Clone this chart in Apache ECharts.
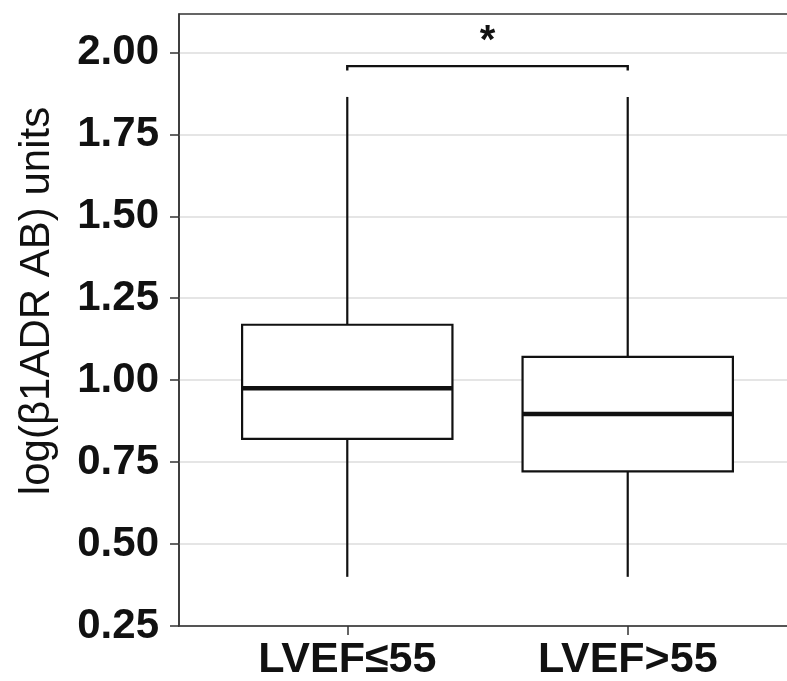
<!DOCTYPE html>
<html>
<head>
<meta charset="utf-8">
<script src="https://cdn.jsdelivr.net/npm/echarts@6/dist/echarts.min.js"></script>
<style>
  html, body { margin: 0; padding: 0; background: #fff; }
  #chart { width: 787px; height: 681px; }
</style>
</head>
<body>
<div id="chart"></div>
<script>
// Group labels and five-number summaries for each box
const groups = ['LVEF\u226455', 'LVEF>55'];
const whiskerLow = [0.40, 0.40];
const q1 = [0.821, 0.722];
const median = [0.975, 0.897];
const q3 = [1.169, 1.071];
const whiskerHigh = [1.864, 1.864];

// Y axis tick values
const yTicks = [0.25, 0.50, 0.75, 1.00, 1.25, 1.50, 1.75, 2.00];

// Significance bracket between the two groups
const bracketLevel = 1.958;
const bracketTip = 1.945;
const starLevel = 2.031;
const starText = '*';

const FONT = '"Liberation Sans", Arial, sans-serif';
const BOX_HALF = 0.375;

const boxData = groups.map((g, i) => [i + 1, whiskerLow[i], q1[i], median[i], q3[i], whiskerHigh[i]]);

function renderBox(params, api) {
  const x = api.value(0);
  const lo = api.coord([x, api.value(1)]);
  const b1 = api.coord([x, api.value(2)]);
  const md = api.coord([x, api.value(3)]);
  const b3 = api.coord([x, api.value(4)]);
  const hi = api.coord([x, api.value(5)]);
  const left = api.coord([x - BOX_HALF, api.value(3)])[0];
  const right = api.coord([x + BOX_HALF, api.value(3)])[0];
  const stroke = { stroke: '#111', lineWidth: 2.2, fill: null };
  return {
    type: 'group',
    children: [
      { type: 'line', shape: { x1: hi[0], y1: hi[1], x2: b3[0], y2: b3[1] }, style: stroke },
      { type: 'line', shape: { x1: b1[0], y1: b1[1], x2: lo[0], y2: lo[1] }, style: stroke },
      { type: 'rect', shape: { x: left, y: b3[1], width: right - left, height: b1[1] - b3[1] },
        style: { stroke: '#111', lineWidth: 2.2, fill: '#fff' } },
      { type: 'line', shape: { x1: left, y1: md[1], x2: right, y2: md[1] },
        style: { stroke: '#111', lineWidth: 4.5 } }
    ]
  };
}

function renderBracket(params, api) {
  const a = api.coord([1, bracketTip]);
  const b = api.coord([1, bracketLevel]);
  const c = api.coord([2, bracketLevel]);
  const d = api.coord([2, bracketTip]);
  const s = api.coord([1.5, starLevel]);
  return {
    type: 'group',
    children: [
      { type: 'polyline', shape: { points: [a, b, c, d] },
        style: { stroke: '#111', lineWidth: 2.4, fill: null } },
      { type: 'text', x: s[0], y: s[1],
        style: { text: starText, font: 'bold 40px ' + FONT, fill: '#111',
                 align: 'center', verticalAlign: 'middle' } }
    ]
  };
}

const chart = echarts.init(document.getElementById('chart'), null, { renderer: 'canvas' });
chart.setOption({
  animation: false,
  backgroundColor: '#fff',
  grid: {
    left: 179, top: 14, bottom: 55, right: -9,
    outerBoundsMode: 'none', containLabel: false,
    show: true, borderColor: '#333', borderWidth: 1.5, backgroundColor: '#fff'
  },
  xAxis: {
    type: 'value', min: 0.4, max: 2.6,
    splitLine: { show: false },
    axisLine: { show: true, lineStyle: { color: '#333', width: 1.5 } },
    axisTick: { show: true, length: 9, customValues: [1, 2], lineStyle: { color: '#333', width: 1.5 } },
    axisLabel: {
      customValues: [1, 2], margin: 13,
      formatter: v => groups[Math.round(v) - 1] || '',
      color: '#111', fontSize: 43, fontWeight: 'bold', fontFamily: FONT
    }
  },
  yAxis: {
    type: 'value', min: 0.25, max: 2.117, interval: 0.25,
    name: 'log(\u03b21ADR AB) units',
    nameLocation: 'middle', nameGap: 121,
    nameTextStyle: { color: '#111', fontSize: 42, fontFamily: FONT, padding: [0, 0, 0, 38] },
    axisLine: { show: true, lineStyle: { color: '#333', width: 1.5 } },
    axisTick: { show: true, length: 9, customValues: yTicks, lineStyle: { color: '#333', width: 1.5 } },
    axisLabel: {
      customValues: yTicks, margin: 20,
      formatter: v => v.toFixed(2),
      color: '#111', fontSize: 42, fontWeight: 'bold', fontFamily: FONT
    },
    splitLine: { show: true, lineStyle: { color: '#dcdcdc', width: 1.5 } }
  },
  series: [
    { type: 'custom', renderItem: renderBox, data: boxData, encode: { x: 0, y: [1, 2, 3, 4, 5] }, z: 3 },
    { type: 'custom', renderItem: renderBracket, data: [[1.5, bracketLevel]], encode: { x: 0, y: 1 }, z: 3 }
  ]
});
</script>
</body>
</html>
